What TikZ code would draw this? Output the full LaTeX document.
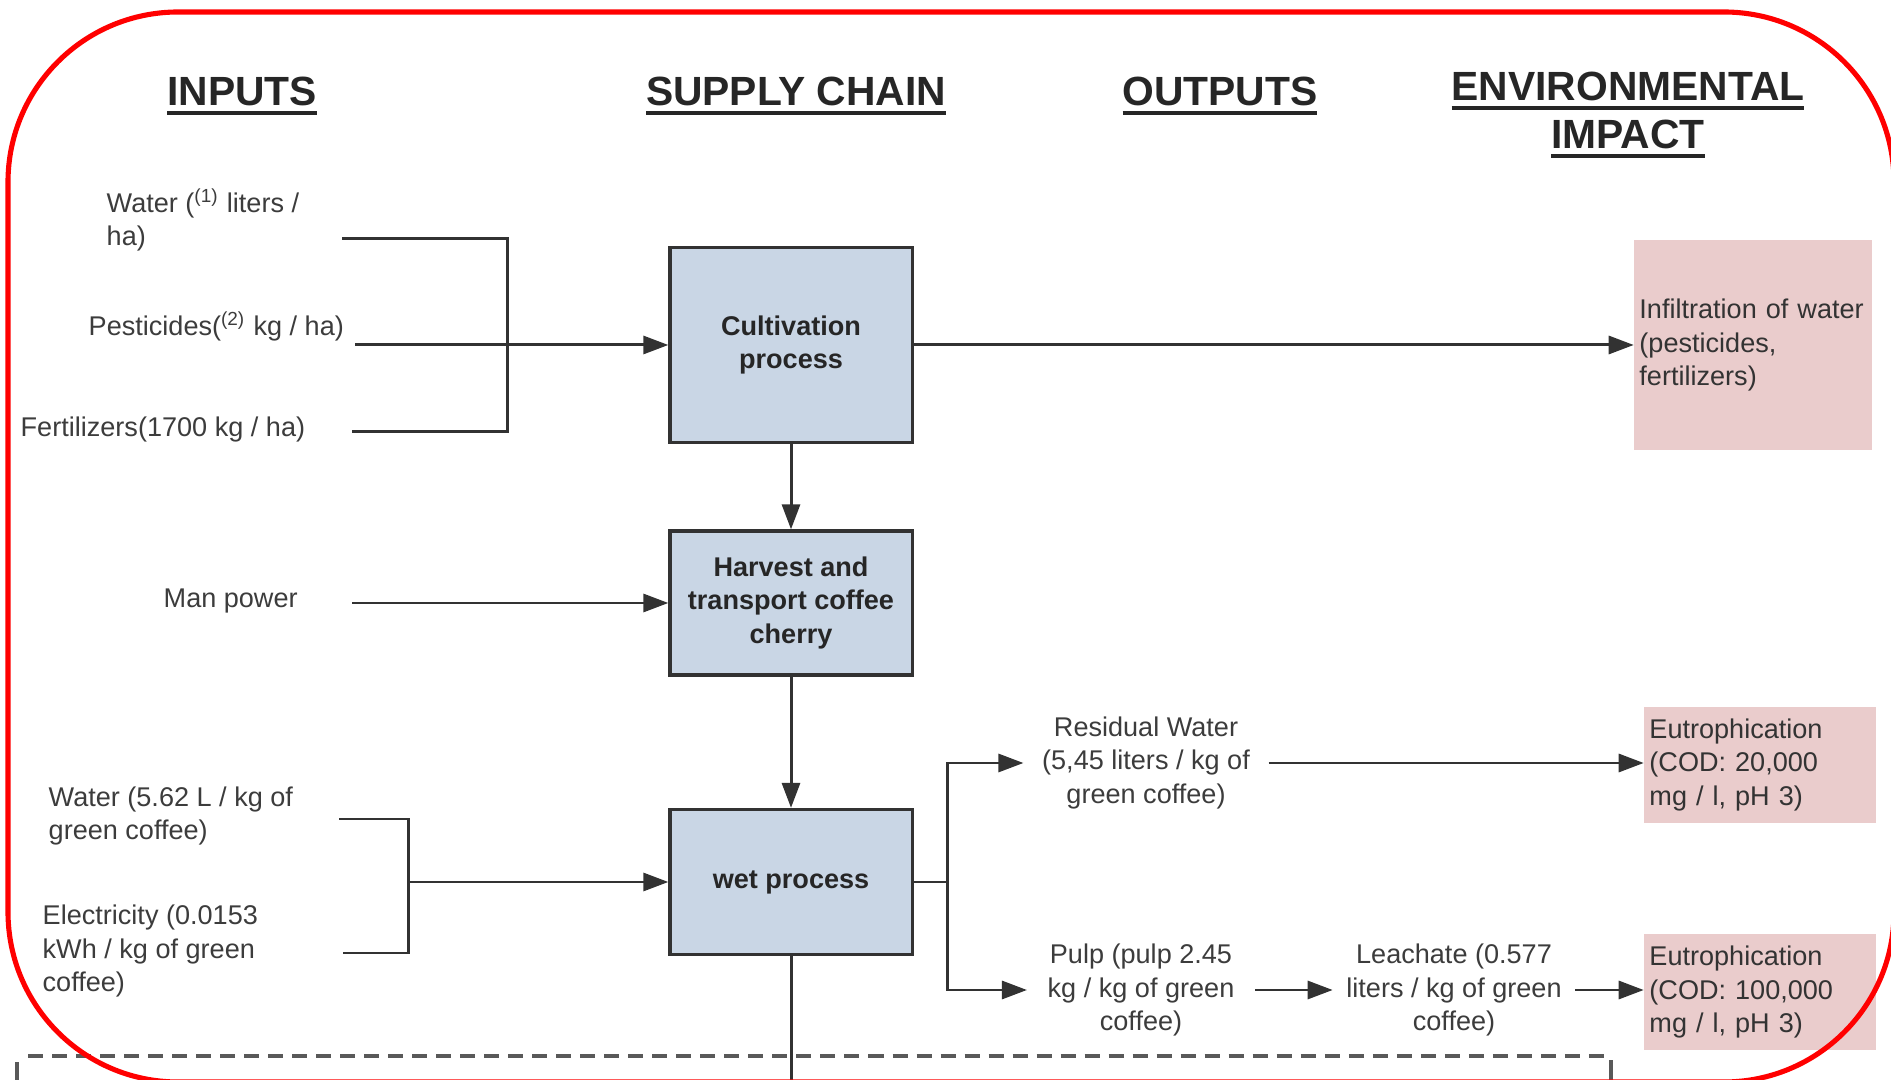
\documentclass[tikz,border=0pt]{standalone}
\usepackage{fontspec}
\setmainfont{Liberation Sans}
\usetikzlibrary{arrows.meta}

\definecolor{procblue}{RGB}{201,214,229}
\definecolor{impactpink}{RGB}{234,204,204}
\definecolor{linegray}{RGB}{50,50,50}
\definecolor{textgray}{RGB}{60,60,60}
\definecolor{framered}{RGB}{255,0,0}

\newsavebox{\hdbox}
\newcommand{\hdul}[1]{\sbox{\hdbox}{#1}\usebox{\hdbox}\llap{\raisebox{-2.5pt}{\rule{\wd\hdbox}{1pt}}}}

\begin{document}
\begin{tikzpicture}[x=0.01cm, y=-0.01cm,
    body/.style={font=\fontsize{7.7}{9.5}\selectfont, text=textgray, inner sep=0pt},
    head/.style={font=\fontsize{11.6}{13.7}\selectfont\bfseries, text=black!85, inner sep=0pt},
    proc/.style={draw=linegray, line width=0.9pt, fill=procblue, minimum width=2.42cm, align=center,
                 font=\fontsize{7.7}{9.5}\selectfont\bfseries, text=black!85},
    impact/.style={fill=impactpink, align=left, inner xsep=0.05cm, font=\fontsize{7.7}{9.5}\selectfont, text=black!80},
    flow/.style={draw=linegray, line width=0.85pt},
    arr/.style={flow, -{Triangle[length=2.5mm, width=1.8mm]}},
    dashline/.style={draw=black!65, line width=0.9pt, dash pattern=on 1.5mm off 0.9mm}]
        \useasboundingbox (0,0) rectangle (1891,1080);

        % headings
        \node[head] (hin) at (242,96) {\hdul{INPUTS}};
        \node[head] (hsc) at (796,96) {\hdul{SUPPLY CHAIN}};
        \node[head] (hout) at (1220,96) {\hdul{OUTPUTS}};
        \node[head] (henv) at (1628,91) {\hdul{ENVIRONMENTAL}};
        \node[head] (himp) at (1628,139) {\hdul{IMPACT}};

        % supply chain
        \node[proc, minimum height=1.95cm] (cult) at (791,345) {Cultivation\\process};
        \node[proc, minimum height=1.44cm] (harv) at (791,603) {Harvest and\\transport coffee\\cherry};
        \node[proc, minimum height=1.45cm] (wet) at (791,882) {wet process};
        \draw[arr] (cult.south) -- (harv.north);
        \draw[arr] (harv.south) -- (wet.north);
        \coordinate (wetout) at (791,1090);
        \draw[flow] (wet.south) -- (wetout);

        % inputs
        \node[body, anchor=west, align=left] (wat1) at (106,220) {Water (\textsuperscript{(1)} liters /\\ha)};
        \node[body, anchor=west] (pes) at (88,326) {Pesticides(\textsuperscript{(2)} kg / ha)};
        \node[body, anchor=west] (fer) at (20,430) {Fertilizers(1700 kg / ha)};
        \node[body, anchor=west] (man) at (163,601) {Man power};
        \node[body, anchor=west, align=left] (wat2) at (48,816) {Water (5.62 L / kg of\\green coffee)};
        \node[body, anchor=west, align=left] (ele) at (42,951) {Electricity (0.0153\\kWh / kg of green\\coffee)};

        \coordinate (wat1s) at (342,239);
        \coordinate (pess) at (355,345);
        \coordinate (fers) at (352,432);
        \coordinate (mans) at (352,603);
        \coordinate (wat2s) at (339,819);
        \coordinate (eles) at (343,953);
        \coordinate (brkA) at (507,345);
        \coordinate (brkB) at (408,882);

        \draw[flow] (wat1s) -| (brkA) |- (fers);
        \draw[arr] (pess) -- (cult.west);
        \draw[arr] (mans) -- (harv.west);
        \draw[flow] (wat2s) -| (brkB) |- (eles);
        \draw[arr] (brkB) -- (wet.west);

        % outputs
        \node[body, align=center, inner xsep=0.18cm] (resid) at (1146,763) {Residual Water\\(5,45 liters / kg of\\green coffee)};
        \node[body, align=center, inner xsep=0.2cm] (pulp) at (1141,990) {Pulp (pulp 2.45\\kg / kg of green\\coffee)};
        \node[body, align=center, inner xsep=0.13cm] (leach) at (1454,990) {Leachate (0.577\\liters / kg of green\\coffee)};
        \coordinate (split) at (947,882);
        \draw[flow] (wet.east) -- (split);
        \draw[arr] (split) |- (resid.west);
        \draw[arr] (split) |- (pulp.west);
        \draw[arr] (pulp.east) -- (leach.west);

        % environmental impact
        \node[impact, minimum width=2.37cm, minimum height=2.10cm, text width=2.27cm, inner xsep=0.03cm] (infil) at (1753,345)
            {Infiltration of water\\(pesticides,\\fertilizers)};
        \node[impact, minimum width=2.31cm, minimum height=1.02cm, text width=2.21cm] (eut1) at (1760,765)
            {Eutrophication\\(COD: 20,000\\mg / l, pH 3)};
        \node[impact, minimum width=2.31cm, minimum height=1.01cm, text width=2.21cm] (eut2) at (1760,992)
            {Eutrophication\\(COD: 100,000\\mg / l, pH 3)};
        \draw[arr] (cult.east) -- (infil.west);
        \draw[arr] (resid.east) -- (resid.east -| eut1.west);
        \draw[arr] (leach.east) -- (leach.east -| eut2.west);

        % dashed boundary
        \coordinate (dashL) at (28,1056);
        \coordinate (dashR) at (1604,1056);
        \coordinate (dashLt) at (17,1062);
        \coordinate (dashLb) at (17,1090);
        \coordinate (dashRt) at (1611,1060);
        \coordinate (dashRb) at (1611,1082);
        \draw[dashline] (dashL) -- (dashR);
        \draw[draw=black!65, line width=0.9pt] (dashLt) -- (dashLb);
        \draw[draw=black!65, line width=0.9pt] (dashRt) -- (dashRb);

        % red frame
        \draw[framered, line width=1.45pt, rounded corners=1.7cm] (8,12) rectangle (1894,1082);
\end{tikzpicture}
\end{document}
